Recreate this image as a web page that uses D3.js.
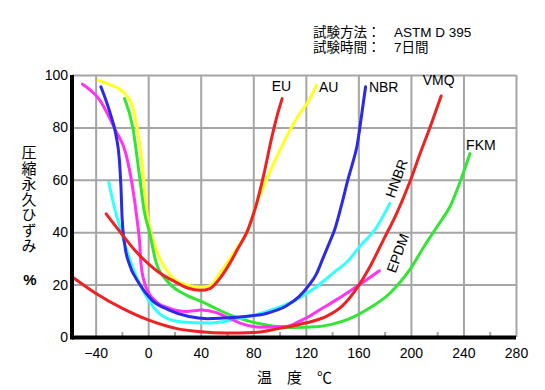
<!DOCTYPE html>
<html lang="ja">
<head>
  <meta charset="UTF-8">
  <title>圧縮永久ひずみ</title>
  <style>
    body { margin: 0; background: #fff; }
    text { font-family: "Liberation Sans", Arial, "Noto Sans CJK JP", sans-serif; fill: #000; }
    .jp { font-family: "Noto Sans CJK JP", sans-serif; }
  </style>
</head>
<body>
  <script src="https://cdn.jsdelivr.net/npm/d3@7"></script>
  <script>
    // 軸の目盛り
    let xTicks = [-40, 0, 40, 80, 120, 160, 200, 240, 280];
    let xMinor = [-20, 20, 60, 100, 140, 180, 220, 260];
    let yTicks = [0, 20, 40, 60, 80, 100];

    // 各材料の曲線 [温度, 圧縮永久ひずみ%]
    let euPts = [[-32, 47], [-22, 40.5], [-10, 33], [0, 28], [10, 24], [19, 21.5], [30, 18.7], [40, 17.8], [47, 18.5],
                 [54, 22], [62, 28], [68, 33.5], [76, 41], [82, 50], [88, 62], [94, 76], [99, 86], [102, 91]];
    let auPts = [[-38, 98], [-30, 96.5], [-18, 93], [-12, 88], [-8.5, 80], [-5.5, 70], [-3, 58], [-0.5, 46], [2, 40],
                 [8, 31], [18, 23], [30, 19.8], [40, 19], [47, 19.5], [54, 24], [67, 33.5], [76, 41], [82, 50],
                 [90, 60], [100, 71], [108, 79], [115, 85], [122, 90], [128, 96]];
    let nbrPts = [[-36, 95.5], [-29, 85.5], [-24.5, 77], [-22, 68], [-20.8, 58], [-19.8, 45], [-17.5, 34], [-14.5, 28],
                  [-7, 20.5], [3, 14], [16, 10.3], [31, 7.8], [45, 7], [64, 7.4], [90, 9], [105, 11.8], [115, 15.5],
                  [122, 19.5], [128, 24], [133, 30], [138, 36], [142, 41], [148, 52], [152, 60], [156, 67], [159, 73],
                  [162, 83], [165.5, 95.5]];
    let hnbrPts = [[-30, 59], [-26, 50], [-21, 41], [-15, 31], [-9, 23], [1, 13.5], [11, 8], [26, 5.7], [45, 5.3],
                   [64, 6.5], [90, 9.7], [110, 13.5], [125, 18], [141, 24.5], [152, 29], [161, 34.5], [174, 42], [184, 51]];
    let epdmPts = [[-50, 96.5], [-37, 90.5], [-25, 79], [-17, 70], [-12, 57.5], [-8.5, 45], [-6.5, 36], [-5.5, 28],
                   [-2, 19.5], [6, 13.5], [16, 11], [29, 9.7], [41, 10.3], [52, 9.3], [60, 7.6], [70, 5.3], [85, 3.7],
                   [105, 4], [115, 6], [123, 8], [131, 10.5], [141, 13.5], [152, 17], [161, 20], [176, 25.3]];
    let vmqPts = [[-58, 23], [-40, 16.7], [-20, 11], [0, 6.5], [21, 3.3], [40, 2], [59, 1.5], [80, 1.7], [100, 3.3],
                  [115, 4.8], [125, 6], [136, 8], [148, 12], [158, 18], [169, 27], [179, 37], [189, 47], [199, 59],
                  [207, 70], [214.5, 80], [223, 92]];
    let fkmPts = [[-18, 91], [-11.7, 80], [-6.5, 61], [-3, 48], [1, 40], [6, 28.5], [16, 20.5], [29, 16], [41, 13.5],
                  [53, 10.5], [69.5, 7.1], [90, 4.6], [110, 3.6], [130, 4], [141, 5], [152, 6.7], [166, 10.3],
                  [184, 16.7], [199, 25.6], [211.6, 35.8], [221.7, 43.4], [230, 50], [238, 60], [245, 70]];

    let width = 545;
    let height = 390;
    let svg = d3.select("body")
                .append("svg")
                .attr("width", width)
                .attr("height", height);

    let x = d3.scaleLinear().domain([-58, 280]).range([72, 516]);
    let y = d3.scaleLinear().domain([0, 100]).range([337, 75]);

    // グリッド
    let gridColor = "#a5a5a5";
    svg.append("g")
       .attr("transform", "translate(0,75)")
       .call(d3.axisBottom(x).tickValues(xTicks).tickSize(262).tickFormat(""))
       .call(g => g.select(".domain").remove())
       .call(g => g.selectAll("line").attr("stroke", gridColor).attr("stroke-width", 2));
    svg.append("g")
       .attr("transform", "translate(72,0)")
       .call(d3.axisRight(y).tickValues(yTicks).tickSize(444).tickFormat(""))
       .call(g => g.select(".domain").remove())
       .call(g => g.selectAll("line").attr("stroke", gridColor).attr("stroke-width", 2));

    // 補助目盛り
    svg.append("g")
       .attr("transform", "translate(0,336)")
       .call(d3.axisTop(x).tickValues(xMinor).tickSize(4).tickFormat(""))
       .call(g => g.select(".domain").remove())
       .call(g => g.selectAll("line").attr("stroke", gridColor).attr("stroke-width", 2));

    // 曲線
    let line = d3.line()
                 .x(d => x(d[0]))
                 .y(d => y(d[1]))
                 .curve(d3.curveMonotoneX);
    let series = [
      [auPts, "#ffff22"],
      [fkmPts, "#33e633"],
      [hnbrPts, "#33ffff"],
      [epdmPts, "#ff33f0"],
      [nbrPts, "#2a2ae8"],
      [euPts, "#ee2222"],
      [vmqPts, "#ee2222"]
    ];
    svg.selectAll("path.curve")
       .data(series)
       .enter()
       .append("path")
       .attr("class", "curve")
       .attr("d", d => line(d[0]))
       .attr("fill", "none")
       .attr("stroke", d => d[1])
       .attr("stroke-width", 3)
       .attr("stroke-linecap", "round");

    // 軸
    let xAxis = svg.append("g")
       .attr("transform", "translate(0,337)")
       .call(d3.axisBottom(x).tickValues(xTicks).tickSize(0).tickPadding(11));
    xAxis.select(".domain").remove();
    xAxis.selectAll("text").attr("font-size", 14).attr("font-family", "Liberation Sans, Arial");
    let yAxis = svg.append("g")
       .attr("transform", "translate(72,0)")
       .call(d3.axisLeft(y).tickValues(yTicks).tickSize(0).tickPadding(4));
    yAxis.select(".domain").remove();
    yAxis.selectAll("text").attr("font-size", 14).attr("font-family", "Liberation Sans, Arial");

    svg.append("line")
       .attr("x1", x(-58)).attr("x2", x(280))
       .attr("y1", y(0) + 0.5).attr("y2", y(0) + 0.5)
       .attr("stroke", "#000").attr("stroke-width", 4);
    svg.append("line")
       .attr("x1", x(-58)).attr("x2", x(-58))
       .attr("y1", y(100)).attr("y2", y(0) + 2.5)
       .attr("stroke", "#000").attr("stroke-width", 4);

    // 曲線ラベル
    let fs = 14;
    svg.append("text").attr("x", x(94)).attr("y", y(94)).attr("font-size", fs).text("EU");
    svg.append("text").attr("x", x(130)).attr("y", y(93.5)).attr("font-size", fs).text("AU");
    svg.append("text").attr("x", x(168)).attr("y", y(93.5)).attr("font-size", fs).text("NBR");
    svg.append("text").attr("x", x(209)).attr("y", y(96)).attr("font-size", fs).text("VMQ");
    svg.append("text").attr("x", x(242)).attr("y", y(71.5)).attr("font-size", fs).text("FKM");
    svg.append("text")
       .attr("transform", `translate(${x(189)},${y(60.5)}) rotate(-70)`)
       .attr("text-anchor", "middle").attr("dy", "0.35em")
       .attr("font-size", fs).text("HNBR");
    svg.append("text")
       .attr("transform", `translate(${x(190)},${y(32)}) rotate(-70)`)
       .attr("text-anchor", "middle").attr("dy", "0.35em")
       .attr("font-size", fs).text("EPDM");

    // 試験条件
    let condSize = 13.5;
    svg.append("text").attr("x", 313).attr("y", 36.5)
       .attr("font-size", condSize).text("試験方法：");
    svg.append("text").attr("x", 394).attr("y", 36.5)
       .attr("font-size", condSize).text("ASTM D 395");
    svg.append("text").attr("x", 313).attr("y", 52)
       .attr("font-size", condSize).text("試験時間：");
    svg.append("text").attr("x", 394).attr("y", 52)
       .attr("font-size", condSize).text("7日間");

    // 軸タイトル
    svg.append("text")
       .attr("class", "jp")
       .attr("x", 29).attr("y", 145)
       .attr("writing-mode", "vertical-rl")
       .attr("letter-spacing", 0.5)
       .attr("font-size", 15)
       .text("圧縮永久ひずみ");
    svg.append("text")
       .attr("x", 30).attr("y", 285)
       .attr("text-anchor", "middle")
       .attr("font-size", 15).attr("font-weight", "bold")
       .text("%");
    svg.append("text")
       .attr("class", "jp")
       .attr("x", 257).attr("y", 383)
       .attr("font-size", 15)
       .text("温　度　℃");
  </script>
</body>
</html>
